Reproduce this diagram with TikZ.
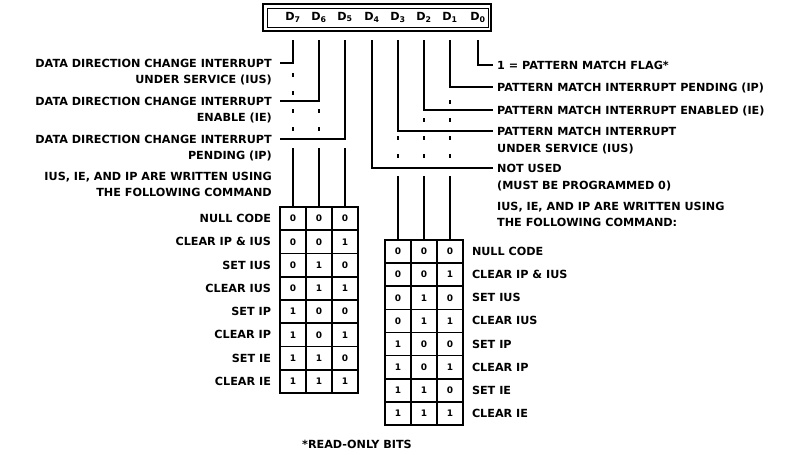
\documentclass[tikz,border=0pt]{standalone}
\usepackage{fontspec}
\newfontfamily\regfont{DejaVu Sans}
\begin{document}
\begin{tikzpicture}[x=1pt, y=-1pt,
  every node/.style={font=\regfont\bfseries\fontsize{11.2}{12}\selectfont},
  lbl/.style={inner ysep=0pt, inner xsep=8pt, text height=8pt, text depth=0pt},
  rlbl/.style={anchor=west, inner ysep=0pt, inner xsep=4pt, text height=8pt, text depth=0pt},
  bit/.style={inner sep=0pt},
  cell/.style={draw, line width=1.6pt, minimum width=26pt, minimum height=23.2pt, inner sep=0pt,
    font=\regfont\bfseries\fontsize{9}{10}\selectfont},
  wire/.style={line width=1.6pt},
  cont/.style={line width=1.4pt, dash pattern=on 4pt off 14pt}]
\useasboundingbox (0,0) rectangle (788,455);
% register
\draw[line width=2pt] (263,4) rectangle (491,31);
\draw[line width=0.8pt] (267,8) rectangle (488,27);
\foreach \b/\x in {7/293,6/319,5/345,4/372,3/398,2/424,1/450,0/478}
  \node[bit] (b\b) at (\x,17) {D\textsubscript{\b}};
\coordinate (top) at (0,40);
% data direction bits
\node[lbl, anchor=east] (ius) at (280,63) {DATA DIRECTION CHANGE INTERRUPT};
\node[lbl, anchor=east] (ius2) at (280,79) {UNDER SERVICE (IUS)};
\node[lbl, anchor=east] (ie) at (280,101) {DATA DIRECTION CHANGE INTERRUPT};
\node[lbl, anchor=east] (ie2) at (280,117) {ENABLE (IE)};
\node[lbl, anchor=east] (ip) at (280,139) {DATA DIRECTION CHANGE INTERRUPT};
\node[lbl, anchor=east] (ip2) at (280,155) {PENDING (IP)};
\node[lbl, anchor=east] (cmdl) at (280,176) {IUS, IE, AND IP ARE WRITTEN USING};
\node[lbl, anchor=east] (cmdl2) at (280,192) {THE FOLLOWING COMMAND};
% pattern match bits
\node[rlbl] (flag) at (493,65) {1 = PATTERN MATCH FLAG*};
\node[rlbl] (pip) at (493,87) {PATTERN MATCH INTERRUPT PENDING (IP)};
\node[rlbl] (pie) at (493,110) {PATTERN MATCH INTERRUPT ENABLED (IE)};
\node[rlbl] (pius) at (493,131) {PATTERN MATCH INTERRUPT};
\node[rlbl] (pius2) at (493,148) {UNDER SERVICE (IUS)};
\node[rlbl] (unused) at (493,168) {NOT USED};
\node[rlbl] (unused2) at (493,185) {(MUST BE PROGRAMMED 0)};
\node[rlbl] (cmdr) at (493,206) {IUS, IE, AND IP ARE WRITTEN USING};
\node[rlbl] (cmdr2) at (493,222) {THE FOLLOWING COMMAND:};
% command tables
\foreach \da/\db/\dc/\txt [count=\r] in {0/0/0/NULL CODE, 0/0/1/CLEAR IP \& IUS,
    0/1/0/SET IUS, 0/1/1/CLEAR IUS, 1/0/0/SET IP, 1/0/1/CLEAR IP, 1/1/0/SET IE, 1/1/1/CLEAR IE}{
  \node[cell] (la\r) at (293,{218.6+23.25*(\r-1)}) {\da};
  \node[cell] (lb\r) at (319,{218.6+23.25*(\r-1)}) {\db};
  \node[cell] (lc\r) at (345,{218.6+23.25*(\r-1)}) {\dc};
  \node[lbl, anchor=east] (ln\r) at (la\r.west) {\txt};
  \node[cell] (ra\r) at (398,{251.6+23.1*(\r-1)}) {\da};
  \node[cell] (rb\r) at (424,{251.6+23.1*(\r-1)}) {\db};
  \node[cell] (rc\r) at (450,{251.6+23.1*(\r-1)}) {\dc};
  \node[lbl, anchor=west] (rn\r) at (rc\r.east) {\txt};
}
% bit lines
\draw[wire] (b7 |- top) |- (ius.east);
\draw[wire] (b6 |- top) |- (ie.east);
\draw[wire] (b5 |- top) |- (ip.east);
\draw[wire] (b4 |- top) |- (unused.west);
\draw[wire] (b3 |- top) |- (pius.west);
\draw[wire] (b2 |- top) |- (pie.west);
\draw[wire] (b1 |- top) |- (pip.west);
\draw[wire] (b0 |- top) |- (flag.west);
\draw[cont] (b7 |- 0,73) -- (b7 |- 0,135);
\draw[cont] (b6 |- 0,109) -- (b6 |- 0,135);
\draw[cont] (b1 |- 0,100) -- (b1 |- 0,162);
\draw[cont] (b2 |- 0,118) -- (b2 |- 0,162);
\draw[cont] (b3 |- 0,136) -- (b3 |- 0,162);
\draw[wire] (b7 |- 0,148) -- (la1.north);
\draw[wire] (b6 |- 0,148) -- (lb1.north);
\draw[wire] (b5 |- 0,148) -- (lc1.north);
\draw[wire] (b3 |- 0,176) -- (ra1.north);
\draw[wire] (b2 |- 0,176) -- (rb1.north);
\draw[wire] (b1 |- 0,176) -- (rc1.north);
\node (ro) at (357,444) {*READ-ONLY BITS};
\end{tikzpicture}
\end{document}
